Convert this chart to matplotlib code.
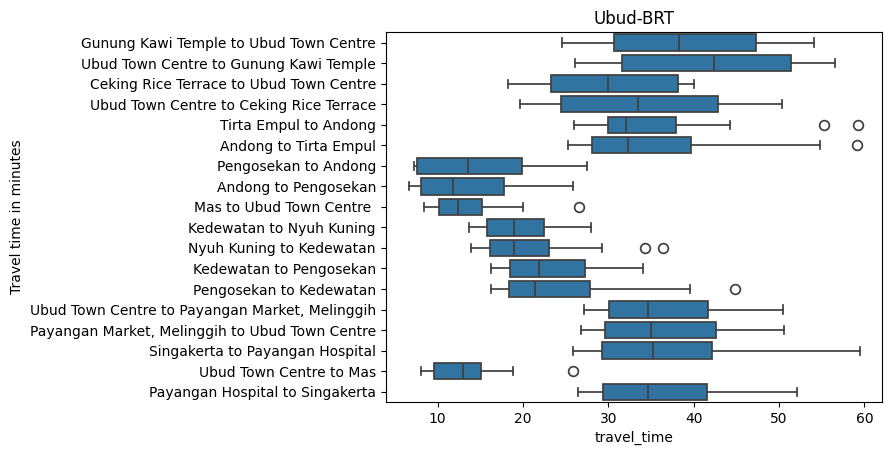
import matplotlib
matplotlib.use("Agg")
import matplotlib.pyplot as plt

routes = [
    "Gunung Kawi Temple to Ubud Town Centre",
    "Ubud Town Centre to Gunung Kawi Temple",
    "Ceking Rice Terrace to Ubud Town Centre",
    "Ubud Town Centre to Ceking Rice Terrace",
    "Tirta Empul to Andong",
    "Andong to Tirta Empul",
    "Pengosekan to Andong",
    "Andong to Pengosekan",
    "Mas to Ubud Town Centre ",
    "Kedewatan to Nyuh Kuning",
    "Nyuh Kuning to Kedewatan",
    "Kedewatan to Pengosekan",
    "Pengosekan to Kedewatan",
    "Ubud Town Centre to Payangan Market, Melinggih",
    "Payangan Market, Melinggih to Ubud Town Centre",
    "Singakerta to Payangan Hospital",
    "Ubud Town Centre to Mas",
    "Payangan Hospital to Singakerta",
]
whis_lo = [24.6, 26.1, 18.2, 19.7, 26.0, 25.3, 7.2, 6.6, 8.4, 13.7, 13.9, 16.2, 16.2, 27.1, 26.8, 25.8, 8.0, 26.4]
q1 =      [30.7, 31.6, 23.3, 24.5, 30.0, 28.1, 7.6, 8.0, 10.2, 15.8, 16.1, 18.5, 18.3, 30.1, 29.6, 29.3, 9.6, 29.4]
median =  [38.3, 42.4, 30.0, 33.5, 32.1, 32.3, 13.6, 11.8, 12.4, 18.9, 18.9, 21.9, 21.4, 34.7, 35.0, 35.2, 13.0, 34.6]
q3 =      [47.3, 51.4, 38.1, 42.9, 37.9, 39.7, 19.9, 17.8, 15.2, 22.4, 23.0, 27.3, 27.8, 41.7, 42.6, 42.2, 15.1, 41.6]
whis_hi = [54.1, 56.6, 40.0, 50.4, 44.2, 54.8, 27.5, 25.8, 20.0, 28.0, 29.3, 34.1, 39.6, 50.5, 50.6, 59.5, 18.8, 52.1]
outliers = [[], [], [], [], [55.3, 59.2], [59.1], [], [], [26.6], [], [34.3, 36.4], [], [44.8], [], [], [], [25.9], []]

stats = []
for i, name in enumerate(routes):
    stats.append(dict(label=name, whislo=whis_lo[i], q1=q1[i], med=median[i],
                      q3=q3[i], whishi=whis_hi[i], fliers=outliers[i]))

fig = plt.figure(figsize=(8.91, 4.55), dpi=100)
ax = fig.add_axes([0.4329, 0.1165, 0.9896 - 0.4329, 0.929 - 0.1165])

lc = "#3f3f3f"
lw = 1.25
ax.bxp(stats, positions=list(range(len(routes))), vert=False, widths=0.8,
       patch_artist=True, capwidths=0.4,
       boxprops=dict(facecolor="#3274a1", edgecolor=lc, linewidth=lw),
       medianprops=dict(color=lc, linewidth=lw),
       whiskerprops=dict(color=lc, linewidth=lw),
       capprops=dict(color=lc, linewidth=lw),
       flierprops=dict(marker="o", markerfacecolor="none", markeredgecolor=lc,
                       markersize=7, markeredgewidth=lw))

ax.set_yticks(range(len(routes)))
ax.set_yticklabels(routes)
ax.set_ylim(len(routes) - 0.5, -0.5)
ax.set_xlim(3.91, 62.03)
ax.set_xticks([10, 20, 30, 40, 50, 60])
ax.set_title("Ubud-BRT")
ax.set_xlabel("travel_time")
ax.set_ylabel("Travel time in minutes")

fig.savefig("out.png", dpi=100)
